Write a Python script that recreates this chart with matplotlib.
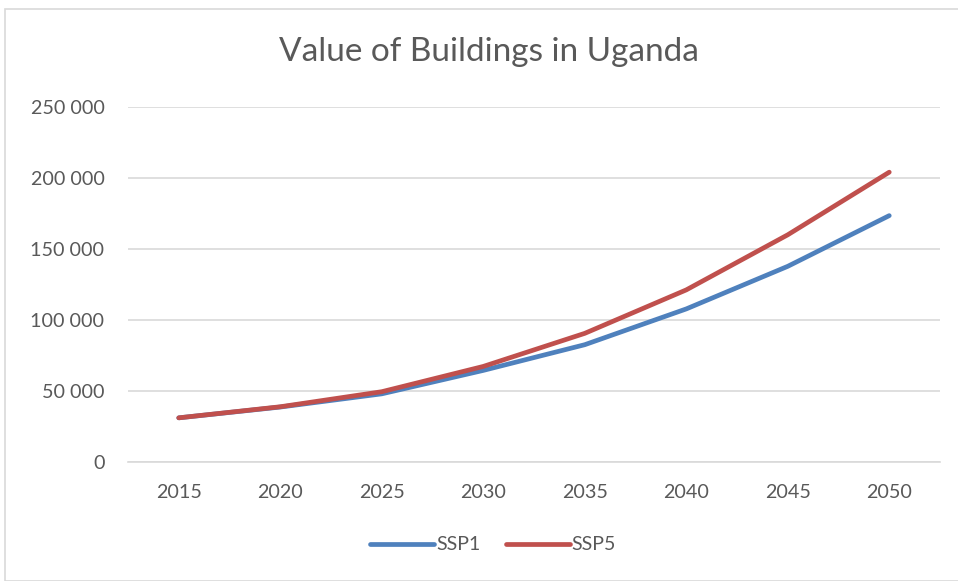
import matplotlib
matplotlib.use("Agg")
import matplotlib.pyplot as plt
from matplotlib.patches import Rectangle

years = ["2015", "2020", "2025", "2030", "2035", "2040", "2045", "2050"]
ssp1 = [31100, 38700, 48000, 64500, 82600, 107800, 137800, 173500]
ssp5 = [31100, 38900, 49500, 67300, 90600, 121200, 160000, 204100]
yticks = [0, 50000, 100000, 150000, 200000, 250000]
ytick_labels = ["0", "50 000", "100 000", "150 000", "200 000", "250 000"]

plt.rcParams['font.family'] = ['Lato', 'DejaVu Sans']
W, H = 958, 581
fig = plt.figure(figsize=(W/100, H/100), dpi=100)
fig.patches.append(Rectangle((5/W, 0), 1, 1 - 9/H, transform=fig.transFigure,
                             fill=False, edgecolor='#d9d9d9', linewidth=1.2))

ax = fig.add_axes([128/W, 1 - 462/H, (940-128)/W, (462-107)/H])
x = list(range(len(years)))
ax.plot(x, ssp1, color='#4f81bd', linewidth=3.4, solid_capstyle='round', label='SSP1', zorder=3)
ax.plot(x, ssp5, color='#c0504d', linewidth=3.4, solid_capstyle='round', label='SSP5', zorder=4)

ax.set_xlim(-0.5, len(years) - 0.5)
ax.set_ylim(0, 250000)
ax.set_yticks(yticks)
ax.set_yticklabels(ytick_labels)
ax.set_xticks(x)
ax.set_xticklabels(years)
ax.grid(axis='y', color='#d9d9d9', linewidth=1.2)
ax.set_axisbelow(True)
for s in ['top', 'right', 'left']:
    ax.spines[s].set_visible(False)
ax.spines['bottom'].set_color('#d9d9d9')
ax.spines['bottom'].set_linewidth(1.2)
ax.tick_params(axis='both', length=0, labelsize=14.2, labelcolor='#595959')
ax.tick_params(axis='y', pad=17)
ax.tick_params(axis='x', pad=16)

fig.text(489/W, 1 - 52/H, "Value of Buildings in Uganda", ha='center', va='center',
         fontsize=24, color='#595959')

leg = fig.legend(loc='center', bbox_to_anchor=(493/W, 1 - 545/H), ncol=2, frameon=False,
                 fontsize=14, handlelength=3.3, handletextpad=0.1, columnspacing=1.3)
for t in leg.get_texts():
    t.set_color('#595959')

fig.savefig("out.png", dpi=100)
